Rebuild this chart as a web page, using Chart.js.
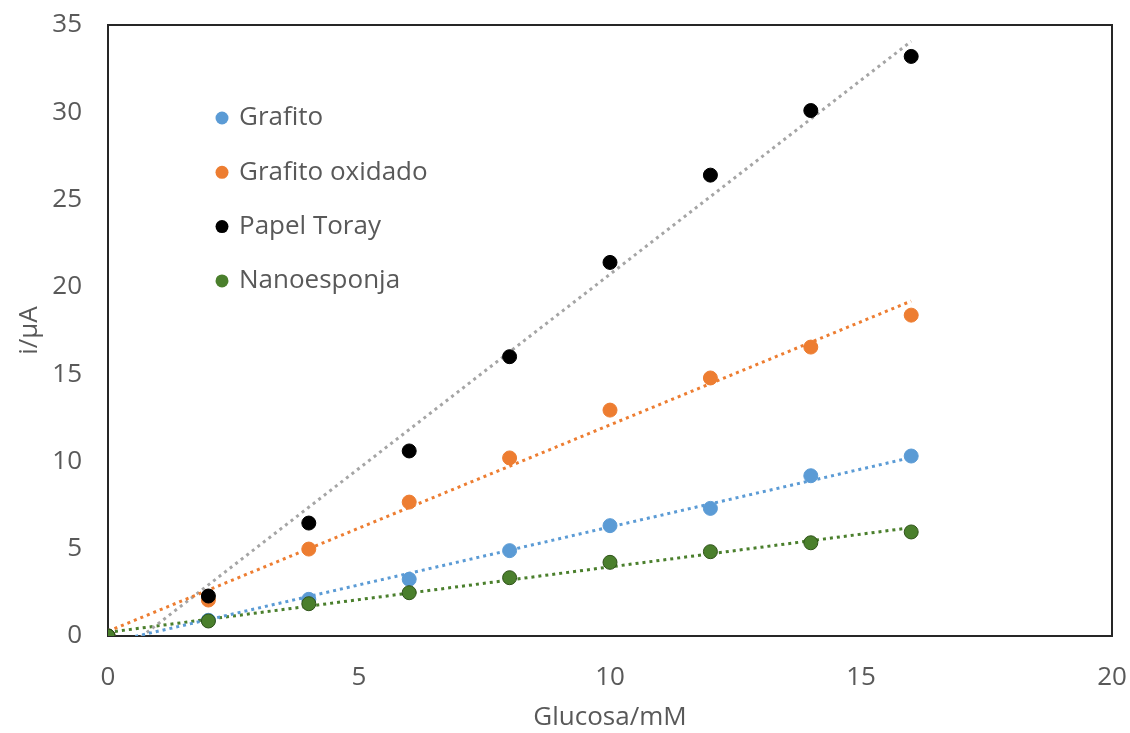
<!DOCTYPE html>
<html>
<head>
<meta charset="utf-8">
<script src="https://cdn.jsdelivr.net/npm/chart.js@4"></script>
<style>
  html, body { margin: 0; padding: 0; background: #fff; }
  #wrap { width: 1130px; height: 733px; }
</style>
</head>
<body>
<div id="wrap"><canvas id="glucoseChart"></canvas></div>
<script>
const glucosa = [0, 2, 4, 6, 8, 10, 12, 14, 16];

const grafito = [0, 0.9, 2.1, 3.25, 4.89, 6.32, 7.31, 9.18, 10.31];
const grafitoOxidado = [0, 2.06, 4.98, 7.67, 10.2, 12.94, 14.78, 16.55, 18.38];
const papelToray = [0, 2.29, 6.47, 10.6, 16.0, 21.4, 26.4, 30.1, 33.2];
const nanoesponja = [0, 0.86, 1.85, 2.48, 3.34, 4.22, 4.83, 5.34, 5.96];

const seriesNames = ['Grafito', 'Grafito oxidado', 'Papel Toray', 'Nanoesponja'];
const xTicks = [0, 5, 10, 15, 20];
const yTicks = [0, 5, 10, 15, 20, 25, 30, 35];

const textColor = '#595959';
const fontFamily = "'Open Sans', 'Noto Sans', sans-serif";

const points = (ys) => glucosa.map((x, i) => ({ x: x, y: ys[i] }));

// linear least squares, like the Excel trendline
function trend(ys) {
    const n = glucosa.length;
    const mx = glucosa.reduce((a, b) => a + b, 0) / n;
    const my = ys.reduce((a, b) => a + b, 0) / n;
    let sxy = 0, sxx = 0;
    glucosa.forEach((x, i) => {
        sxy += (x - mx) * (ys[i] - my);
        sxx += (x - mx) * (x - mx);
    });
    const m = sxy / sxx;
    const b = my - m * mx;
    const x0 = glucosa[0], x1 = glucosa[n - 1];
    return [{ x: x0, y: m * x0 + b }, { x: x1, y: m * x1 + b }];
}

const series = [
    { data: grafito, color: '#5b9bd5', border: '#5b9bd5', trendColor: '#5b9bd5', order: 4 },
    { data: grafitoOxidado, color: '#ed7d31', border: '#ed7d31', trendColor: '#ed7d31', order: 3 },
    { data: papelToray, color: '#000000', border: '#000000', trendColor: '#a5a5a5', order: 2 },
    { data: nanoesponja, color: '#4a7f2c', border: '#2f5219', trendColor: '#4a7f2c', order: 1 }
];

const datasets = [];
series.forEach((s, i) => {
    datasets.push({
        label: seriesNames[i],
        type: 'scatter',
        data: points(s.data),
        backgroundColor: s.color,
        borderColor: s.border,
        borderWidth: 1,
        pointRadius: 7,
        order: s.order
    });
});
series.forEach((s, i) => {
    datasets.push({
        label: seriesNames[i] + ' trend',
        type: 'line',
        data: trend(s.data),
        borderColor: s.trendColor,
        borderWidth: 3,
        borderDash: [3, 4],
        pointRadius: 0,
        fill: false,
        order: 20 + i
    });
});

// box round the plot area
const frame = {
    id: 'frame',
    beforeDatasetsDraw(chart) {
        const { ctx, chartArea } = chart;
        ctx.save();
        ctx.strokeStyle = '#262626';
        ctx.lineWidth = 2;
        ctx.strokeRect(chartArea.left, chartArea.top, chartArea.right - chartArea.left, chartArea.bottom - chartArea.top);
        ctx.restore();
    }
};

// legend inside the plot, top left
const innerLegend = {
    id: 'innerLegend',
    afterDraw(chart) {
        const { ctx, chartArea } = chart;
        ctx.save();
        ctx.font = '26px ' + fontFamily;
        ctx.textBaseline = 'middle';
        ctx.textAlign = 'left';
        seriesNames.forEach((name, i) => {
            const y = chartArea.top + 93 + i * 54.3;
            const x = chartArea.left + 114;
            ctx.beginPath();
            ctx.arc(x, y, 6.5, 0, Math.PI * 2);
            ctx.fillStyle = series[i].color;
            ctx.fill();
            ctx.fillStyle = textColor;
            ctx.fillText(name, x + 17, y);
        });
        ctx.restore();
    }
};

new Chart(document.getElementById('glucoseChart'), {
    type: 'scatter',
    data: { datasets: datasets },
    options: {
        responsive: true,
        maintainAspectRatio: false,
        animation: false,
        layout: {
            padding: { top: 25, right: 18, left: 0, bottom: 0 }
        },
        plugins: {
            legend: { display: false },
            tooltip: { enabled: false }
        },
        scales: {
            x: {
                type: 'linear',
                min: 0,
                max: 20,
                afterBuildTicks: (axis) => { axis.ticks = xTicks.map(v => ({ value: v })); },
                afterFit: (axis) => {
                    axis.height = 97;
                    axis.paddingLeft = 0;
                    axis.paddingRight = 0;
                },
                grid: { display: false, drawTicks: false },
                border: { display: false },
                ticks: {
                    color: textColor,
                    padding: 26,
                    maxRotation: 0,
                    font: { family: fontFamily, size: 26 }
                },
                title: {
                    display: true,
                    text: 'Glucosa/mM',
                    color: textColor,
                    padding: { top: 4, bottom: 0 },
                    font: { family: fontFamily, size: 26 }
                }
            },
            y: {
                type: 'linear',
                min: 0,
                max: 35,
                afterBuildTicks: (axis) => { axis.ticks = yTicks.map(v => ({ value: v })); },
                afterFit: (axis) => {
                    axis.width = 108;
                    axis.paddingTop = 0;
                    axis.paddingBottom = 0;
                },
                grid: { display: false, drawTicks: false },
                border: { display: false },
                ticks: {
                    color: textColor,
                    padding: 26,
                    font: { family: fontFamily, size: 26 }
                },
                title: {
                    display: true,
                    text: 'i/μA',
                    color: textColor,
                    padding: { top: 14, bottom: 0 },
                    font: { family: fontFamily, size: 26 }
                }
            }
        }
    },
    plugins: [frame, innerLegend]
});
</script>
</body>
</html>
